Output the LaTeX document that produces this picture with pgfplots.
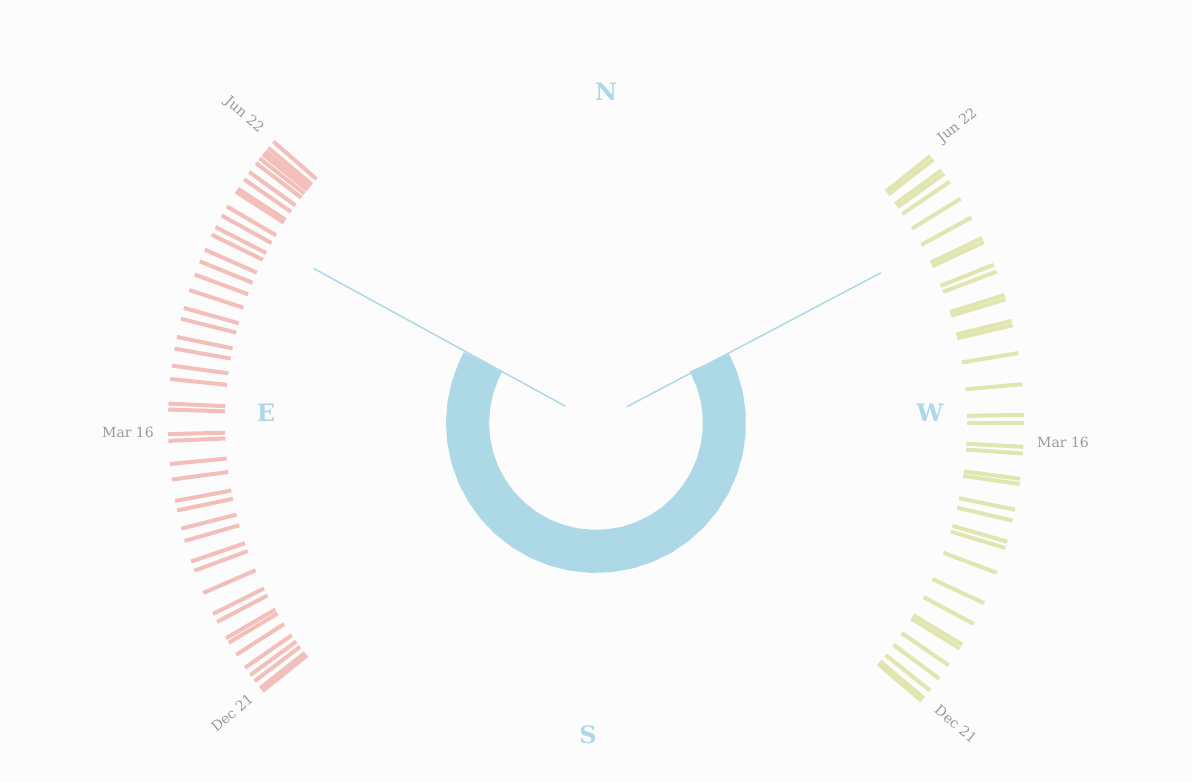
\documentclass[border=0pt]{standalone}
\usepackage{pgfplots}
\pgfplotsset{compat=1.18}
\usepackage{pgfplotstable}
\usepackage{fontspec}
\setmainfont{DejaVu Serif}
\definecolor{bgc}{HTML}{FCFCFC}
\definecolor{pinkt}{HTML}{F2BFBA}
\definecolor{greent}{HTML}{E1E6B1}
\definecolor{lblue}{HTML}{ADD8E6}
\definecolor{graytxt}{HTML}{999999}

% sunrise azimuth ticks (math angle in degrees, inner radius)
\pgfplotstableread{
a r
138.9 371
140.0 371
140.6 371
141.1 371
141.8 371
142.6 371
144.1 371
145.3 371
146.8 371
147.3 371
149.6 371
151.0 371
152.75 371
153.9 371
156.1 371
157.8 371
159.7 371
161.9 371
164.4 371
165.9 371
168.4 371
170.0 371
172.3 371
174.1 371
177.4 371
178.2 371
181.5 371
182.4 371
185.5 371
187.6 371
190.5 371
191.8 371
194.3 371
196.0 371
198.9 371
200.2 371
203.4 371
206.5 371
207.7 371
210.2 371
210.9 371
212.8 371
214.9 371
216.1 371
217.1 371
218.3 371
218.8 371
}\lefttab

% sunset azimuth ticks
\pgfplotstableread{
a r
38.6 371
38.0 371
36.2 371
35.6 371
34.3 371
31.6 371
28.7 371
25.6 371
25.0 371
21.7 371
20.7 371
17.4 371
16.8 371
13.8 371
13.2 371
9.4 371
5.2 371
1.1 371
0.0 371
-3.2 371
-4.1 371
-7.5 371
-8.2 371
-11.7 371
-13.2 371
-16.1 371
-17.0 371
-20.5 371
-24.9 371
-28.0 371
-31.2 371
-31.8 371
-34.5 371
-36.7 371
-38.7 371
-40.0 371
-40.5 371
}\righttab

% sun ring (angles along the arc, radius)
\pgfplotstableread{
a r
151.5 128.5
156 128.5
164 128.5
172 128.5
180 128.5
188 128.5
196 128.5
204 128.5
212 128.5
220 128.5
228 128.5
236 128.5
244 128.5
252 128.5
260 128.5
268 128.5
276 128.5
284 128.5
292 128.5
300 128.5
308 128.5
316 128.5
324 128.5
332 128.5
340 128.5
348 128.5
356 128.5
364 128.5
372 128.5
380 128.5
388 128.5
}\ringtab

\begin{document}
\begin{tikzpicture}
\begin{axis}[
  width=1192pt, height=782pt, scale only axis,
  xmin=-596, xmax=596, ymin=-359, ymax=423,
  axis lines=none, ticks=none, clip=false,
  axis background/.style={fill=bgc},
]
\addplot[draw=lblue, line width=43pt, line cap=butt, line join=round]
  table[x expr={\thisrow{r}*cos(\thisrow{a})}, y expr={\thisrow{r}*sin(\thisrow{a})}] {\ringtab};

\addplot[draw=lblue, line width=1.5pt] coordinates {(-30.7,16.8) (-282.4,154.6)};
\addplot[draw=lblue, line width=1.5pt] coordinates {(31.0,16.3) (284.9,150.2)};

\addplot[draw=pinkt, line width=4pt, line cap=butt,
  quiver={u={57*cos(\thisrow{a})}, v={57*sin(\thisrow{a})}}]
  table[x expr={\thisrow{r}*cos(\thisrow{a})}, y expr={\thisrow{r}*sin(\thisrow{a})}] {\lefttab};

\addplot[draw=greent, line width=4pt, line cap=butt,
  quiver={u={57*cos(\thisrow{a})}, v={57*sin(\thisrow{a})}}]
  table[x expr={\thisrow{r}*cos(\thisrow{a})}, y expr={\thisrow{r}*sin(\thisrow{a})}] {\righttab};

\node[text=lblue, font=\fontsize{24}{24}\selectfont\bfseries] at (axis cs:10,331) {N};
\node[text=lblue, font=\fontsize{24}{24}\selectfont\bfseries] at (axis cs:-8,-312) {S};
\node[text=lblue, font=\fontsize{24}{24}\selectfont\bfseries] at (axis cs:-330,10) {E};
\node[text=lblue, font=\fontsize{24}{24}\selectfont\bfseries] at (axis cs:334,10) {W};

\node[text=graytxt, font=\fontsize{14}{14}\selectfont] at (axis cs:-468,-9) {Mar 16};
\node[text=graytxt, font=\fontsize{14}{14}\selectfont] at (axis cs:467,-19) {Mar 16};
\node[text=graytxt, font=\fontsize{14}{14}\selectfont, rotate=-41] at (axis cs:-352,308) {Jun 22};
\node[text=graytxt, font=\fontsize{14}{14}\selectfont, rotate=39] at (axis cs:361.5,297) {Jun 22};
\node[text=graytxt, font=\fontsize{14}{14}\selectfont, rotate=40] at (axis cs:-364,-290) {Dec 21};
\node[text=graytxt, font=\fontsize{14}{14}\selectfont, rotate=-40] at (axis cs:360,-301) {Dec 21};
\end{axis}
\end{tikzpicture}
\end{document}
